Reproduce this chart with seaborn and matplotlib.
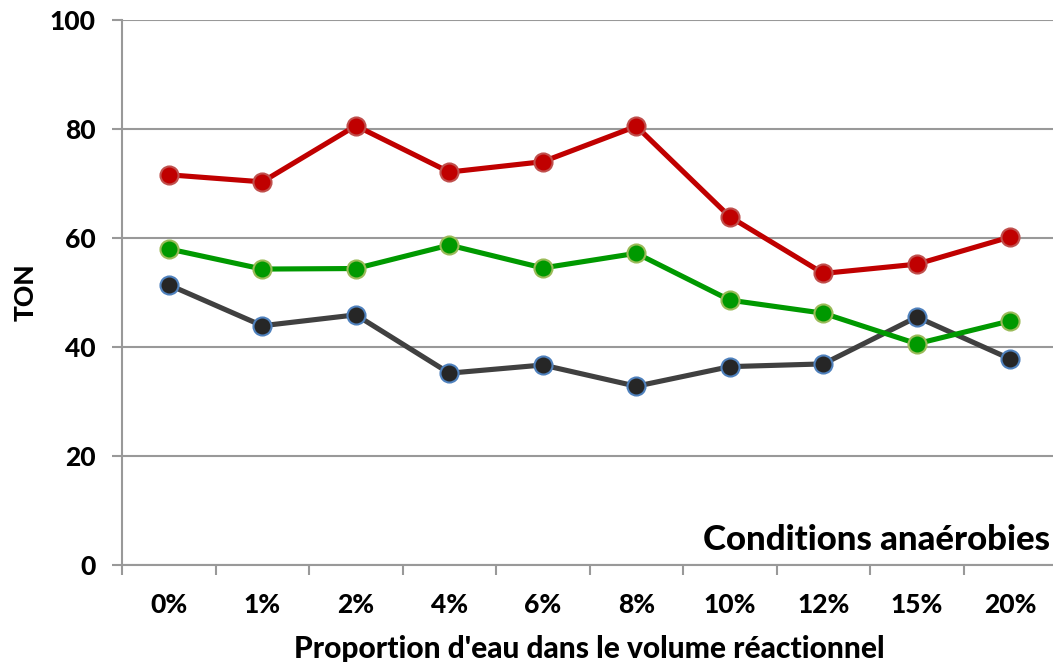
import numpy as np
import pandas as pd
import matplotlib
matplotlib.use("Agg")
import matplotlib.pyplot as plt
import seaborn as sns

# Données
proportions = ["0%", "1%", "2%", "4%", "6%", "8%", "10%", "12%", "15%", "20%"]
serie_rouge = [71.6, 70.3, 80.6, 72.1, 74.0, 80.5, 63.9, 53.5, 55.2, 60.2]
serie_verte = [58.0, 54.3, 54.4, 58.7, 54.5, 57.2, 48.6, 46.2, 40.6, 44.8]
serie_noire = [51.4, 43.9, 45.9, 35.2, 36.7, 32.8, 36.4, 36.9, 45.5, 37.8]

sns.set_style("white")
plt.rcParams["font.family"] = ["Lato", "DejaVu Sans"]
plt.rcParams["font.weight"] = "black"
plt.rcParams["text.color"] = "black"
plt.rcParams["axes.labelcolor"] = "black"
plt.rcParams["xtick.color"] = "black"
plt.rcParams["ytick.color"] = "black"

pos = np.arange(len(proportions))
df = pd.DataFrame({
    "pos": np.tile(pos, 3),
    "TON": serie_rouge + serie_verte + serie_noire,
    "serie": ["rouge"] * 10 + ["verte"] * 10 + ["noire"] * 10,
})

fig = plt.figure(figsize=(10.53, 6.62), dpi=100)
ax = fig.add_axes([0.1159, 0.1465, 0.888, 0.8233])

styles = {
    "rouge": ("#C00000", "#C0504D", "#C00000"),
    "verte": ("#009900", "#9BBB59", "#009900"),
    "noire": ("#404040", "#4F81BD", "#262626"),
}
for nom in ["noire", "verte", "rouge"]:
    ligne, bord, rempli = styles[nom]
    sns.lineplot(data=df[df["serie"] == nom], x="pos", y="TON", ax=ax,
                 color=ligne, linewidth=3.7, marker="o", markersize=13,
                 markerfacecolor=rempli, markeredgecolor=bord, markeredgewidth=1.5,
                 legend=False)

ax.set_xlim(-0.5, len(proportions) - 0.5)
ax.set_ylim(0, 100)
ax.set_yticks([0, 20, 40, 60, 80, 100])
ax.yaxis.grid(True, color="#999999", linewidth=1.5)
ax.set_axisbelow(True)

# ticks majeurs aux bords des catégories, étiquettes au centre
ax.set_xticks(np.arange(-0.5, len(proportions), 1.0))
ax.set_xticklabels([])
ax.set_xticks(pos, minor=True)
ax.set_xticklabels(proportions, minor=True)
ax.tick_params(axis="x", which="major", length=7, width=1.5, color="#999999", direction="out")
ax.tick_params(axis="x", which="minor", length=0, pad=20, labelsize=19)
ax.tick_params(axis="y", length=7, width=1.5, color="#999999", direction="out", labelsize=19, pad=12)
ax.xaxis.set_ticks_position("bottom")
ax.yaxis.set_ticks_position("left")

for s in ["top", "right"]:
    ax.spines[s].set_visible(False)
for s in ["left", "bottom"]:
    ax.spines[s].set_color("#999999")
    ax.spines[s].set_linewidth(1.5)

ax.set_xlabel("Proportion d'eau dans le volume réactionnel", fontsize=21.5, fontweight="black", labelpad=13)
ax.set_ylabel("TON", fontsize=19, fontweight="black", labelpad=9)
ax.text(0.992, 0.017, "Conditions anaérobies", transform=ax.transAxes,
        ha="right", va="bottom", fontsize=25, fontweight="black")

fig.savefig("out.png", dpi=100)
